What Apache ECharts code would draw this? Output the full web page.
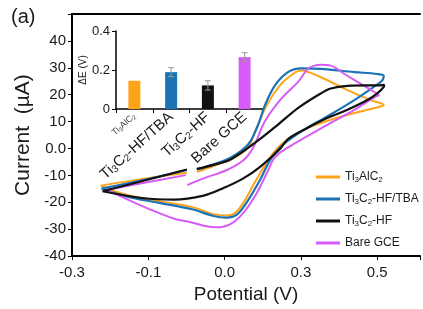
<!DOCTYPE html>
<html>
<head>
<meta charset="utf-8">
<script src="https://cdn.jsdelivr.net/npm/echarts@6/dist/echarts.min.js"></script>
<style>
  html, body { margin: 0; padding: 0; background: #fff; }
  #main { width: 423px; height: 309px; }
</style>
</head>
<body>
<div id="main"></div>
<script>
// tick labels as printed on the potential axis (ticks every 0.2 V from -0.3)
const potentialTicks = ['-0.3', '-0.1', '0.0', '0.3', '0.5']

// CV curves, [potential (V), current (uA)], forward sweep then reverse sweep
const tiAlcForwardA = [[-0.225, -13.8], [-0.110, -11.2], [0.001, -9.0]]
const tiAlcForwardB = [[0.027, -8.7], [0.071, -6.5], [0.123, -3.6], [0.162, 0.4], [0.180, 6.5], [0.212, 16.5],
  [0.245, 23.5], [0.279, 27.7], [0.300, 29.0], [0.352, 26.5], [0.422, 21.7], [0.482, 18.0], [0.517, 16.2]]
const tiAlcReverse = [[0.508, 15.6], [0.440, 13.2], [0.378, 10.7], [0.318, 7.7], [0.266, 3.5], [0.240, 0.4],
  [0.214, -4.3], [0.183, -11.6], [0.149, -20.2], [0.126, -24.1], [0.105, -24.9], [0.071, -24.4],
  [0.015, -21.8], [-0.071, -19.6], [-0.158, -17.2], [-0.225, -13.8]]

const tbaForwardA = [[-0.223, -14.9], [-0.110, -11.6], [0.001, -8.0]]
const tbaForwardB = [[0.027, -7.8], [0.071, -5.9], [0.118, -3.2], [0.162, 1.6], [0.188, 8.9], [0.206, 16.2],
  [0.232, 23.5], [0.266, 28.4], [0.300, 29.8], [0.352, 29.6], [0.440, 28.4], [0.500, 27.7], [0.517, 27.0]]
const tbaReverse = [[0.513, 25.3], [0.491, 22.9], [0.440, 18.0], [0.370, 12.0], [0.310, 7.1], [0.266, 2.9],
  [0.245, 0.4], [0.219, -4.3], [0.193, -11.6], [0.157, -20.2], [0.131, -24.7], [0.105, -25.7],
  [0.071, -25.1], [0.015, -22.6], [-0.071, -20.2], [-0.158, -17.8], [-0.223, -14.9]]

const hfForwardA = [[-0.220, -15.9], [-0.110, -11.9], [0.001, -7.8]]
const hfForwardB = [[0.027, -7.6], [0.071, -6.1], [0.118, -3.9], [0.188, 3.0], [0.240, 8.9], [0.292, 15.0],
  [0.344, 19.8], [0.378, 22.3], [0.422, 23.3], [0.508, 23.5], [0.518, 23.7]]
const hfReverse = [[0.517, 22.9], [0.500, 20.5], [0.474, 18.0], [0.422, 14.4], [0.370, 11.4], [0.318, 7.7],
  [0.266, 3.5], [0.245, -0.2], [0.193, -6.8], [0.149, -11.1], [0.097, -14.7], [0.045, -17.5],
  [-0.033, -19.0], [-0.116, -18.4], [-0.220, -15.9]]

const gceForwardA = [[-0.210, -15.3], [-0.110, -12.7], [-0.002, -9.9]]
const gceForwardB = [[0.002, -13.6], [0.045, -11.1], [0.106, -8.0], [0.149, -4.4], [0.175, 0.4], [0.206, 10.2],
  [0.249, 18.6], [0.292, 24.7], [0.318, 29.6], [0.336, 30.8], [0.352, 31.1], [0.378, 30.8], [0.414, 27.7],
  [0.456, 24.1], [0.491, 21.1], [0.504, 19.8]]
const gceReverse = [[0.495, 19.3], [0.440, 14.4], [0.378, 9.5], [0.318, 4.7], [0.266, 0.4], [0.232, -3.2],
  [0.210, -9.3], [0.184, -16.6], [0.149, -23.9], [0.115, -28.1], [0.080, -29.3], [0.045, -28.7],
  [0.006, -27.2], [-0.028, -26.3], [-0.116, -21.4], [-0.210, -15.3]]

// inset: peak separation
const insetNames = ['Ti3AlC2', 'Ti3C2-HF/TBA', 'Ti3C2-HF', 'Bare GCE']
const deltaE = [0.145, 0.189, 0.121, 0.266]
const deltaEErr = [0, 0.023, 0.024, 0.023]

const colors = ['#ffa31a', '#1b73b3', '#111111', '#d75cf7']
const richNames = {
  'Ti3AlC2': 'Ti{s|3}AlC{s|2}',
  'Ti3C2-HF/TBA': 'Ti{s|3}C{s|2}-HF/TBA',
  'Ti3C2-HF': 'Ti{s|3}C{s|2}-HF',
  'Bare GCE': 'Bare GCE'
}
const font = 'Liberation Sans, Arial, sans-serif'
const gap = ['-', '-']

function curve(a, b, r) {
  return a.concat([gap], b, r)
}

const chart = echarts.init(document.getElementById('main'))

const axisLine = { onZero: false, lineStyle: { color: '#000', width: 2 } }

chart.setOption({
  animation: false,
  textStyle: { fontFamily: font },
  title: {
    text: '(a)', left: 6, top: 2,
    textStyle: { fontSize: 20, fontWeight: 'normal', color: '#1a1a1a', fontFamily: font }
  },
  grid: [
    { left: 72, top: 14, right: 0, bottom: 48 },
    { left: 116, top: 31, width: 147, height: 78 }
  ],
  legend: {
    data: ['Ti3AlC2', 'Ti3C2-HF/TBA', 'Ti3C2-HF', 'Bare GCE'],
    orient: 'vertical',
    left: 311,
    top: 164,
    icon: 'rect',
    itemWidth: 24,
    itemHeight: 3,
    itemGap: 6,
    formatter: name => richNames[name],
    textStyle: {
      fontSize: 12, color: '#1a1a1a', fontFamily: font, lineHeight: 16,
      rich: { s: { fontSize: 8, color: '#1a1a1a', fontFamily: font, padding: [5, 0, 0, 0] } }
    }
  },
  xAxis: [
    {
      type: 'value', gridIndex: 0, min: -0.3, max: 0.612, interval: 0.2,
      name: 'Potential (V)', nameLocation: 'middle', nameGap: 24,
      nameTextStyle: { fontSize: 19, color: '#1a1a1a' },
      axisLine: axisLine,
      axisTick: { show: true, length: 4, lineStyle: { color: '#000' } },
      splitLine: { show: false },
      axisLabel: {
        fontSize: 15, color: '#1a1a1a', margin: 9,
        formatter: v => {
          const k = Math.round((v + 0.3) / 0.2)
          return Math.abs(v - (-0.3 + k * 0.2)) < 1e-6 && potentialTicks[k] ? potentialTicks[k] : ''
        }
      }
    },
    {
      type: 'value', gridIndex: 0, position: 'top', min: -0.3, max: 0.612,
      axisLine: axisLine, axisTick: { show: false }, axisLabel: { show: false }, splitLine: { show: false }
    },
    {
      type: 'category', gridIndex: 1, data: insetNames,
      axisLine: { onZero: false, lineStyle: { color: '#000', width: 1.5 } },
      axisTick: { show: true, length: 4, lineStyle: { color: '#000' } },
      axisLabel: {
        rotate: 42, margin: 6, interval: 0,
        formatter: (v, i) => i === 0 ? '{t|Ti}{u|3}{t|AlC}{u|2}' : richNames[v],
        fontSize: 15, color: '#1a1a1a', fontFamily: font,
        rich: {
          s: { fontSize: 10, color: '#1a1a1a', fontFamily: font, padding: [6, 0, 0, 0] },
          t: { fontSize: 9, color: '#444', fontFamily: font },
          u: { fontSize: 6, color: '#444', fontFamily: font, padding: [4, 0, 0, 0] }
        }
      }
    }
  ],
  yAxis: [
    {
      type: 'value', gridIndex: 0, min: -40, max: 50, interval: 10,
      name: 'Current  (\u00b5A)', nameLocation: 'middle', nameGap: 38, nameRotate: 90,
      nameTextStyle: { fontSize: 21, color: '#1a1a1a' },
      axisLine: axisLine,
      axisTick: { show: true, length: 4, lineStyle: { color: '#000' } },
      splitLine: { show: false },
      axisLabel: {
        fontSize: 15, color: '#1a1a1a', margin: 6,
        formatter: v => v === 50 ? '' : (v === 0 ? '0.0' : String(v))
      }
    },
    {
      type: 'value', gridIndex: 1, min: 0, max: 0.4, interval: 0.2,
      name: '\u0394E (V)', nameLocation: 'middle', nameGap: 26, nameRotate: 90,
      nameTextStyle: { fontSize: 10, color: '#1a1a1a' },
      axisLine: { show: true, onZero: false, lineStyle: { color: '#000', width: 1.5 } },
      axisTick: { show: true, length: 4, lineStyle: { color: '#000' } },
      splitLine: { show: false },
      axisLabel: { fontSize: 13, color: '#1a1a1a', margin: 6, formatter: v => v === 0 ? '0' : v.toFixed(1) }
    }
  ],
  series: [
    {
      name: 'Ti3AlC2', type: 'line', xAxisIndex: 0, yAxisIndex: 0, showSymbol: false, smooth: 0.35,
      lineStyle: { color: colors[0], width: 2 }, itemStyle: { color: colors[0] },
      data: curve(tiAlcForwardA, tiAlcForwardB, tiAlcReverse)
    },
    {
      name: 'Ti3C2-HF/TBA', type: 'line', xAxisIndex: 0, yAxisIndex: 0, showSymbol: false, smooth: 0.35,
      lineStyle: { color: colors[1], width: 2.2 }, itemStyle: { color: colors[1] },
      data: curve(tbaForwardA, tbaForwardB, tbaReverse)
    },
    {
      name: 'Bare GCE', type: 'line', xAxisIndex: 0, yAxisIndex: 0, showSymbol: false, smooth: 0.35,
      lineStyle: { color: colors[3], width: 2 }, itemStyle: { color: colors[3] },
      data: curve(gceForwardA, gceForwardB, gceReverse)
    },
    {
      name: 'Ti3C2-HF', type: 'line', xAxisIndex: 0, yAxisIndex: 0, showSymbol: false, smooth: 0.35,
      lineStyle: { color: colors[2], width: 2.2 }, itemStyle: { color: colors[2] },
      data: curve(hfForwardA, hfForwardB, hfReverse)
    },
    {
      type: 'bar', xAxisIndex: 2, yAxisIndex: 1, barWidth: 12,
      data: deltaE.map((v, i) => ({ value: v, itemStyle: { color: colors[i] } }))
    },
    {
      // error bars
      type: 'custom', xAxisIndex: 2, yAxisIndex: 1, z: 5,
      data: deltaE.map((v, i) => [i, v, deltaEErr[i]]),
      encode: { x: 0, y: 1 },
      renderItem: (params, api) => {
        const i = api.value(0)
        const v = api.value(1)
        const e = api.value(2)
        if (!e) return null
        const hi = api.coord([i, v + e])
        const lo = api.coord([i, v - e])
        const st = { stroke: '#9a9a9a', lineWidth: 1 }
        return {
          type: 'group',
          children: [
            { type: 'line', shape: { x1: hi[0], y1: hi[1], x2: lo[0], y2: lo[1] }, style: st },
            { type: 'line', shape: { x1: hi[0] - 3, y1: hi[1], x2: hi[0] + 3, y2: hi[1] }, style: st },
            { type: 'line', shape: { x1: lo[0] - 3, y1: lo[1], x2: lo[0] + 3, y2: lo[1] }, style: st }
          ]
        }
      }
    }
  ]
})
</script>
</body>
</html>
